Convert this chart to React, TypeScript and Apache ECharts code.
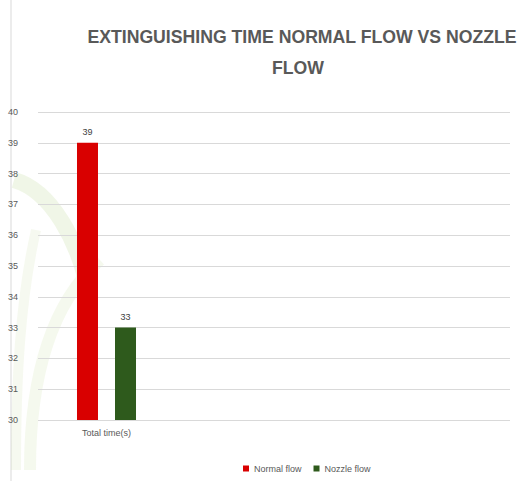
import React, { useEffect, useRef } from "react";
import * as echarts from "echarts";

const categories = ["Total time(s)"];
const seriesNames = ["Normal flow", "Nozzle flow"];
const normalFlow = [39];
const nozzleFlow = [33];
const yMin = 30;
const yMax = 40;
const yInterval = 1;
const titleLines = ["EXTINGUISHING TIME NORMAL FLOW VS NOZZLE", "FLOW"];

export default function App() {
  const ref = useRef<HTMLDivElement>(null);
  useEffect(() => {
    if (!ref.current) return;
    const chart = echarts.init(ref.current, null, { renderer: "svg" });
    const font = "'Liberation Sans', sans-serif";
    chart.setOption({
      animation: false,
      backgroundColor: "#ffffff",
      textStyle: { fontFamily: font },
      graphic: [
        { type: "line", z: 0, shape: { x1: 11, y1: 0, x2: 11, y2: 481 }, style: { stroke: "#d9d9d9", lineWidth: 1 } },
        { type: "bezierCurve", z: 0, shape: { x1: 14, y1: 180, cpx1: 50, cpy1: 190, cpx2: 80, cpy2: 240, x2: 90, y2: 300 }, style: { stroke: "rgba(170,205,120,0.18)", lineWidth: 16, fill: "none" } },
        { type: "bezierCurve", z: 0, shape: { x1: 30, y1: 470, cpx1: 30, cpy1: 370, cpx2: 55, cpy2: 300, x2: 100, y2: 260 }, style: { stroke: "rgba(190,215,150,0.16)", lineWidth: 12, fill: "none" } },
        { type: "bezierCurve", z: 0, shape: { x1: 16, y1: 470, cpx1: 16, cpy1: 380, cpx2: 20, cpy2: 300, x2: 36, y2: 230 }, style: { stroke: "rgba(200,220,160,0.16)", lineWidth: 10, fill: "none" } },
        { type: "text", z: 10, x: 302, y: 36, scaleX: 0.93, style: { text: titleLines[0], font: "bold 19px " + font, fill: "#595959", textAlign: "center", textVerticalAlign: "middle" } },
        { type: "text", z: 10, x: 298, y: 67, scaleX: 0.93, style: { text: titleLines[1], font: "bold 19px " + font, fill: "#595959", textAlign: "center", textVerticalAlign: "middle" } },
      ],
      legend: {
        data: seriesNames,
        left: 238,
        top: 459,
        itemWidth: 6,
        itemHeight: 6,
        itemGap: 12,
        icon: "rect",
        textStyle: { fontSize: 9, color: "#595959", fontFamily: font },
      },
      grid: [
        { left: 38, right: 8, top: 112, bottom: 61, containLabel: false },
        { left: 38, width: 137, top: 112, bottom: 61, containLabel: false },
      ],
      xAxis: [
        { type: "category", gridIndex: 0, data: [""], show: false },
        {
          type: "category",
          gridIndex: 1,
          data: categories,
          axisLine: { show: false },
          axisTick: { show: false },
          axisLabel: { fontSize: 9, color: "#595959", margin: 8 },
        },
      ],
      yAxis: [
        {
          type: "value",
          gridIndex: 0,
          min: yMin,
          max: yMax,
          interval: yInterval,
          axisLine: { show: false },
          axisTick: { show: false },
          axisLabel: { fontSize: 9, color: "#595959", margin: 20 },
          splitLine: { lineStyle: { color: "#d9d9d9", width: 1 } },
        },
        { type: "value", gridIndex: 1, min: yMin, max: yMax, interval: yInterval, show: false, splitLine: { show: false } },
      ],
      series: [
        {
          name: seriesNames[0],
          type: "bar",
          xAxisIndex: 1,
          yAxisIndex: 1,
          data: normalFlow,
          barWidth: 21,
          barGap: "81%",
          itemStyle: { color: "#d90000" },
          label: { show: true, position: "top", fontSize: 9, color: "#404040", distance: 6 },
        },
        {
          name: seriesNames[1],
          type: "bar",
          xAxisIndex: 1,
          yAxisIndex: 1,
          data: nozzleFlow,
          barWidth: 21,
          itemStyle: { color: "#2e5a1c" },
          label: { show: true, position: "top", fontSize: 9, color: "#404040", distance: 6 },
        },
      ],
    });
    return () => chart.dispose();
  }, []);
  return <div ref={ref} style={{ position: "fixed", left: 0, top: 0, width: 518, height: 481 }} />;
}
